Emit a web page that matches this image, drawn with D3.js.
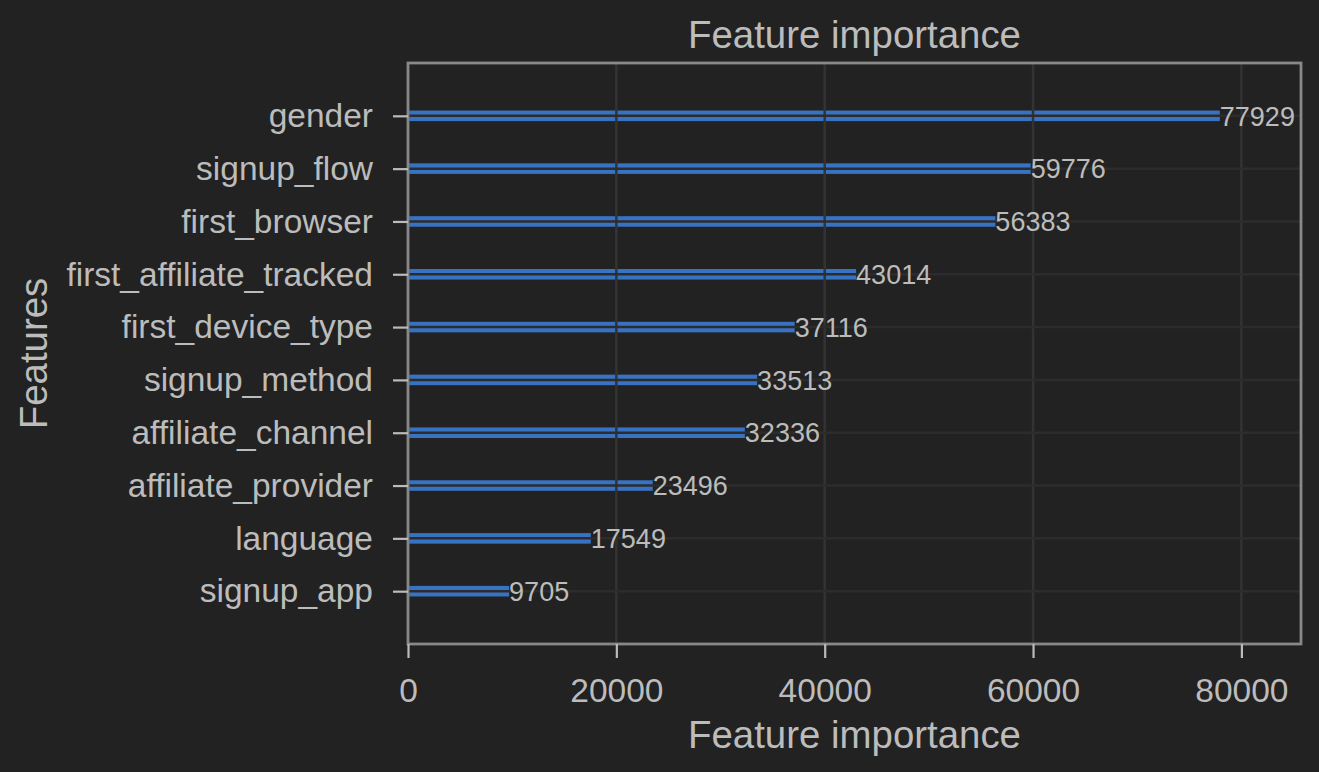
<!DOCTYPE html>
<html><head><meta charset="utf-8">
<script src="https://cdn.jsdelivr.net/npm/d3@7"></script>
<style>body{margin:0;background:#222222;} svg{display:block;}</style>
</head><body>
<svg id="c" width="1319" height="772"></svg>
<script>
const features = ["signup_app","language","affiliate_provider","affiliate_channel","signup_method","first_device_type","first_affiliate_tracked","first_browser","signup_flow","gender"];
const importance = [9705,17549,23496,32336,33513,37116,43014,56383,59776,77929];
const xTicks = [0,20000,40000,60000,80000];

const W=1319,H=772;
const L=408,R=1301,T=63,B=644;
const svg=d3.select("#c");
svg.append("rect").attr("width",W).attr("height",H).attr("fill","#222222");
const maxV=d3.max(importance)*1.1;
const x=d3.scaleLinear().domain([0,maxV]).range([L,R]);
const y=d3.scaleLinear().domain([-1,features.length]).range([B,T]);
const font="'Liberation Sans', Arial, sans-serif";
const txt="#bcbcbc";

// bars
const barH=Math.abs(y(0.1)-y(-0.1));
svg.append("g").selectAll("rect").data(importance).join("rect")
 .attr("x",x(0)).attr("y",(d,i)=>y(i)-barH/2)
 .attr("width",d=>x(d)-x(0)).attr("height",barH).attr("fill","#3872c2");

// grid on top
const g=svg.append("g");
g.selectAll("line.v").data(xTicks).join("line").attr("class","v")
 .attr("x1",d=>x(d)).attr("x2",d=>x(d)).attr("y1",T).attr("y2",B)
 .attr("stroke","#333333").attr("stroke-width",2.5);
g.selectAll("line.h").data(features).join("line").attr("class","h")
 .attr("x1",L).attr("x2",R).attr("y1",(d,i)=>y(i)).attr("y2",(d,i)=>y(i))
 .attr("stroke","#2c2c2c").attr("stroke-width",2.5);

// value labels
svg.append("g").selectAll("text").data(importance).join("text")
 .attr("x",d=>x(d)).attr("y",(d,i)=>y(i)).attr("dy","0.36em")
 .attr("fill",txt).attr("font-family",font).attr("font-size",27)
 .text(d=>d);

// frame
svg.append("rect").attr("x",L).attr("y",T).attr("width",R-L).attr("height",B-T)
 .attr("fill","none").attr("stroke","#888888").attr("stroke-width",2.8);

// axes
const xa=svg.append("g").attr("transform",`translate(0,${B})`)
 .call(d3.axisBottom(x).tickValues(xTicks).tickFormat(d=>d).tickSizeOuter(0).tickSize(14).tickPadding(8));
const ya=svg.append("g").attr("transform",`translate(${L},0)`)
 .call(d3.axisLeft(y).tickValues(d3.range(features.length)).tickFormat(i=>features[i]).tickSizeOuter(0).tickSize(15).tickPadding(20));
[xa,ya].forEach(a=>{
  a.select(".domain").remove();
  a.selectAll(".tick line").attr("stroke","#bbbbbb").attr("stroke-width",2.2);
  a.selectAll(".tick text").attr("fill",txt).attr("font-family",font);
});
ya.selectAll(".tick text").attr("font-size",33.5);
xa.selectAll(".tick text").attr("font-size",33.5).attr("dy","1.06em");

// titles
svg.append("text").attr("x",(L+R)/2).attr("y",48).attr("text-anchor","middle")
 .attr("fill",txt).attr("font-family",font).attr("font-size",38.4).text("Feature importance");
svg.append("text").attr("x",(L+R)/2).attr("y",748).attr("text-anchor","middle")
 .attr("fill",txt).attr("font-family",font).attr("font-size",38.4).text("Feature importance");
svg.append("text").attr("transform",`translate(47,${(T+B)/2}) rotate(-90)`).attr("text-anchor","middle")
 .attr("fill",txt).attr("font-family",font).attr("font-size",38.4).text("Features");
</script>
</body></html>
